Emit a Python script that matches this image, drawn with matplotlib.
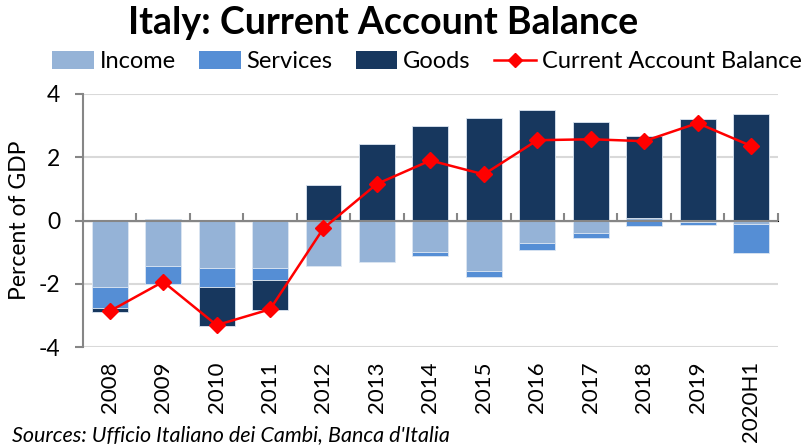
import matplotlib
matplotlib.use("Agg")
import matplotlib.pyplot as plt
import numpy as np
from matplotlib.lines import Line2D
from matplotlib.patches import Patch

plt.rcParams['font.family'] = ['Lato', 'DejaVu Sans']

categories = ["2008", "2009", "2010", "2011", "2012", "2013", "2014",
              "2015", "2016", "2017", "2018", "2019", "2020H1"]
income = [-2.09, -1.42, -1.51, -1.51, -1.44, -1.30, -1.00, -1.58, -0.71, -0.38, 0.08, -0.03, -0.11]
services = [-0.67, -0.58, -0.58, -0.37, 0.0, 0.0, -0.13, -0.21, -0.22, -0.18, -0.18, -0.10, -0.92]
goods = [-0.12, 0.05, -1.23, -0.94, 1.13, 2.43, 3.00, 3.23, 3.48, 3.11, 2.58, 3.21, 3.37]
cab = [-2.86, -1.93, -3.30, -2.80, -0.24, 1.16, 1.90, 1.46, 2.54, 2.57, 2.51, 3.08, 2.36]

col_income = "#95B3D7"
col_services = "#558ED5"
col_goods = "#17375E"
col_cab = "#FF0000"

fig = plt.figure(figsize=(8.01, 4.45), dpi=100)
ax = fig.add_axes([0.1036, 0.2196, 0.8674, 0.5692])

x = np.arange(len(categories))
pos_bottom = np.zeros(len(x))
neg_bottom = np.zeros(len(x))
for vals, col in [(income, col_income), (services, col_services), (goods, col_goods)]:
    v = np.array(vals)
    bottoms = np.where(v >= 0, pos_bottom, neg_bottom)
    ax.bar(x, v, width=0.67, bottom=bottoms, color=col, edgecolor="#DCE6F2",
           linewidth=0.6, zorder=2)
    pos_bottom = pos_bottom + np.where(v >= 0, v, 0)
    neg_bottom = neg_bottom + np.where(v < 0, v, 0)

ax.plot(x, cab, color=col_cab, lw=1.8, marker="D", markersize=8.5, zorder=5)

ax.set_xlim(-0.5, len(categories) - 0.5)
ax.set_ylim(-4, 4)
ax.set_yticks([-4, -2, 0, 2, 4])
ax.set_yticklabels(["-4", "-2", "0", "2", "4"])
ax.yaxis.grid(True, color="#D9D9D9", lw=1.5, zorder=0)
ax.set_axisbelow(True)
for s in ["top", "right", "bottom"]:
    ax.spines[s].set_visible(False)
ax.spines["left"].set_color("#868686")
ax.spines["left"].set_linewidth(1.5)
ax.tick_params(axis="y", direction="out", length=5.5, width=1.5, color="#868686",
               labelsize=16.5, pad=11)
ax.set_xticks(x)
ax.set_xticklabels(categories, rotation=90, va="top", ha="center")
ax.tick_params(axis="x", length=0, labelsize=16, pad=10)
ax.set_ylabel("Percent of GDP", fontsize=16.5, labelpad=6)

ax.axhline(0, color="#868686", lw=1.5, zorder=3)
sec = ax.secondary_xaxis(0.5)
sec.spines["bottom"].set_visible(False)
sec.set_xticks(np.arange(len(categories) + 1) - 0.5)
sec.set_xticklabels([])
sec.tick_params(axis="x", direction="out", length=6, width=1.5, color="#868686")

fig.text(0.478, 0.948, "Italy: Current Account Balance", ha="center", va="center",
         fontsize=27, fontweight="bold")

handles = [Patch(facecolor=col_income), Patch(facecolor=col_services),
           Patch(facecolor=col_goods),
           Line2D([0], [0], color=col_cab, lw=1.8, marker="D", markersize=7)]
labels = ["Income", "Services", "Goods", "Current Account Balance"]
fig.legend(handles, labels, loc="center", bbox_to_anchor=(0.533, 0.861), ncol=4,
           frameon=False, fontsize=17, handlelength=1.75, handleheight=0.8,
           handletextpad=0.25, columnspacing=1.0, borderpad=0.1)

fig.text(0.015, 0.022, "Sources: Ufficio Italiano dei Cambi, Banca d'Italia",
         ha="left", va="center", fontsize=15.5, style="italic")

fig.savefig("out.png", dpi=100)
